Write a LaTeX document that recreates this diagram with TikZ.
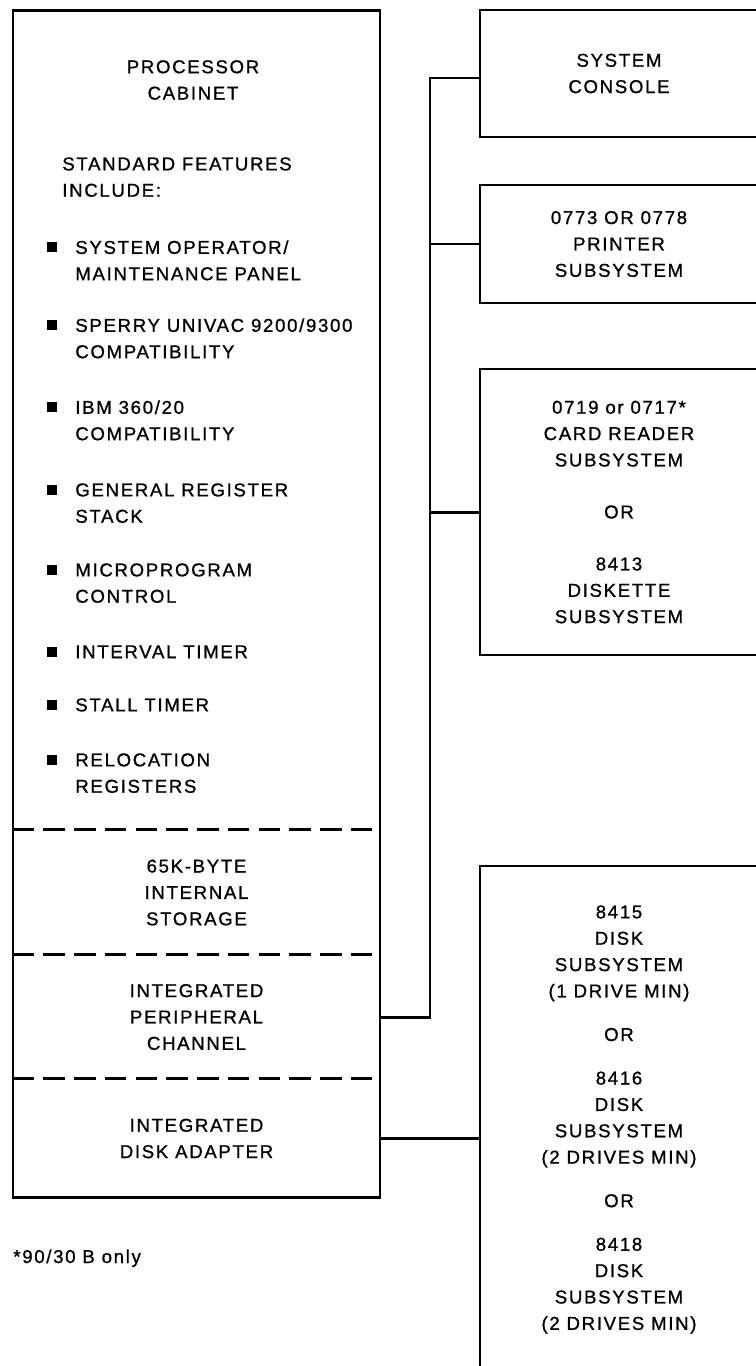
\documentclass[tikz,border=0pt]{standalone}
\usepackage{fontspec}
\setmainfont{Liberation Sans}[LetterSpace=9, FakeBold=1]
\usepackage{tikz}
\usetikzlibrary{positioning, calc}
\tikzset{
  cabinet/.style={draw, line width=1.6pt, minimum width=7.34cm, minimum height=23.76cm, inner sep=0pt},
  unitbox/.style={draw, line width=1.6pt, minimum width=5.56cm, inner sep=0pt, align=center},
  section/.style={minimum width=7.34cm, inner sep=0pt, align=center},
  feat/.style={anchor=north west, inner sep=0pt, align=left},
  bullet/.style={fill, minimum size=0.2cm, inner sep=0pt},
  divider/.style={line width=1.6pt, dash pattern=on 12.2pt off 5.3pt},
  bus/.style={line width=1.7pt},
}

\begin{document}
\begin{tikzpicture}[x=0.02cm, y=-0.02cm, font=\fontsize{10.6}{15}\selectfont]
  \useasboundingbox (0,0) rectangle (755,1366);
  \node[cabinet] (proc) at (196.5,604) {};
  \node[align=center, inner sep=0pt] (title) at (193,80) {PROCESSOR\\CABINET};
  \node[feat] (std) at (62,157) {STANDARD FEATURES\\INCLUDE:};
  \foreach \y/\t [count=\i] in {240/{SYSTEM OPERATOR/\\MAINTENANCE PANEL},
      318/{SPERRY UNIVAC 9200/9300\\COMPATIBILITY}, 400/{IBM 360/20\\COMPATIBILITY},
      483/{GENERAL REGISTER\\STACK}, 563/{MICROPROGRAM\\CONTROL}, 645/{INTERVAL TIMER},
      698/{STALL TIMER}, 753/{RELOCATION\\REGISTERS}} {
    \node[bullet] (dot\i) at (52,\y+6.5) {};
    \node[feat] (feat\i) at (75,\y) {\t};
  }
  \node[section, minimum height=2.5cm] (storage) at (196.5,892.5) {65K-BYTE\\INTERNAL\\STORAGE};
  \node[section, minimum height=2.48cm] (channel) at (196.5,1017) {INTEGRATED\\PERIPHERAL\\CHANNEL};
  \node[section, minimum height=2.38cm] (adapter) at (196.5,1138.5) {INTEGRATED\\DISK ADAPTER};
  \foreach \s in {storage, channel, adapter}
    \draw[divider] (\s.north west) -- ([xshift=-2pt]\s.north east);

  \node[unitbox, minimum height=2.54cm] (console) at (619,73.5) {SYSTEM\\CONSOLE};
  \node[unitbox, minimum height=2.36cm] (printer) at (619,244) {0773 OR 0778\\PRINTER\\SUBSYSTEM};
  \node[unitbox, minimum height=5.72cm] (reader) at (619,512)
    {0719 or 0717*\\CARD READER\\SUBSYSTEM\\[14.6pt]OR\\[14.6pt]8413\\DISKETTE\\SUBSYSTEM};
  \node[unitbox, minimum height=10.14cm] (disk) at (619,1119.5)
    {8415\\DISK\\SUBSYSTEM\\(1 DRIVE MIN)\\[9.8pt]OR\\[9.8pt]8416\\DISK\\SUBSYSTEM\\(2 DRIVES MIN)\\[9.8pt]OR\\[9.8pt]8418\\DISK\\SUBSYSTEM\\(2 DRIVES MIN)};

  \coordinate (bustop) at (430,78);
  \coordinate (busbot) at (430,1017);
  \draw[bus] (channel.east) -- (busbot) -- (bustop) -- (bustop -| console.west);
  \draw[bus] (bustop |- printer.west) -- (printer.west);
  \draw[bus] (bustop |- reader.west) -- (reader.west);
  \draw[bus] (adapter.east) -- (adapter.east -| disk.west);

  \node[anchor=base west, inner sep=0pt] (note) at (13,1263) {*90/30 B only};
\end{tikzpicture}
\end{document}
